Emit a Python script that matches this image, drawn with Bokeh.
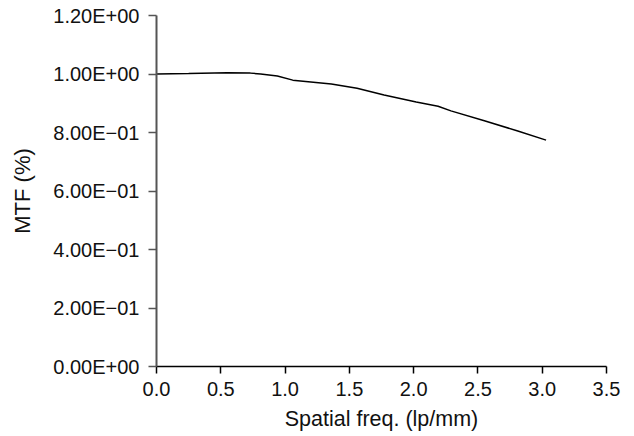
from bokeh.plotting import figure
from bokeh.models import Range1d, FixedTicker
from bokeh.embed import file_html
from bokeh.resources import INLINE

# Data
freq = [0.0, 0.25, 0.55, 0.73, 0.81, 0.94, 1.06, 1.36, 1.56, 1.77, 2.02, 2.19, 2.29, 2.55, 2.81, 3.03]
mtf = [1.0, 1.002, 1.0045, 1.003, 1.0, 0.993, 0.979, 0.966, 0.951, 0.928, 0.904, 0.89, 0.874, 0.84, 0.805, 0.774]

x_ticks = [0.0, 0.5, 1.0, 1.5, 2.0, 2.5, 3.0, 3.5]
x_tick_labels = ["0.0", "0.5", "1.0", "1.5", "2.0", "2.5", "3.0", "3.5"]
y_ticks = [0.0, 0.2, 0.4, 0.6, 0.8, 1.0, 1.2]
y_tick_labels = ["0.00E+00", "2.00E\u221201", "4.00E\u221201", "6.00E\u221201",
                 "8.00E\u221201", "1.00E+00", "1.20E+00"]

FONT = "Liberation Sans"

p = figure(width=634, height=436, output_backend="svg", toolbar_location=None,
           x_range=Range1d(0, 3.5), y_range=Range1d(0, 1.2),
           min_border_left=156, min_border_right=28, min_border_top=15, min_border_bottom=70)
p.outline_line_color = None
p.grid.grid_line_color = None
p.background_fill_color = "white"
p.border_fill_color = "white"

p.line(freq, mtf, line_color="black", line_width=1.5)

# x axis
xa = p.xaxis[0]
xa.ticker = FixedTicker(ticks=x_ticks)
xa.major_label_overrides = dict(zip(x_ticks, x_tick_labels))
xa.axis_label = "Spatial freq. (lp/mm)"
xa.axis_line_color = "black"
xa.axis_line_width = 1.5
xa.major_tick_line_color = "black"
xa.major_tick_line_width = 1.5
xa.major_tick_out = 7
xa.major_tick_in = 0
xa.minor_tick_line_color = None
xa.major_label_text_font = FONT
xa.major_label_text_font_size = "20px"
xa.major_label_text_color = "#111111"
xa.major_label_standoff = 8
xa.axis_label_text_font = FONT
xa.axis_label_text_font_size = "21.5px"
xa.axis_label_text_font_style = "normal"
xa.axis_label_text_color = "#111111"
xa.axis_label_standoff = 8

# y axis
ya = p.yaxis[0]
ya.ticker = FixedTicker(ticks=y_ticks)
ya.major_label_overrides = dict(zip(y_ticks, y_tick_labels))
ya.axis_label = "MTF (%)"
ya.axis_line_color = "#555555"
ya.axis_line_width = 2
ya.major_tick_line_color = "#555555"
ya.major_tick_line_width = 1.5
ya.major_tick_out = 8
ya.major_tick_in = 0
ya.minor_tick_line_color = None
ya.major_label_text_font = FONT
ya.major_label_text_font_size = "20px"
ya.major_label_text_color = "#111111"
ya.major_label_standoff = 9
ya.axis_label_text_font = FONT
ya.axis_label_text_font_size = "22px"
ya.axis_label_text_font_style = "normal"
ya.axis_label_text_color = "#111111"
ya.axis_label_standoff = 15

open("out.html", "w").write(file_html(p, INLINE))
